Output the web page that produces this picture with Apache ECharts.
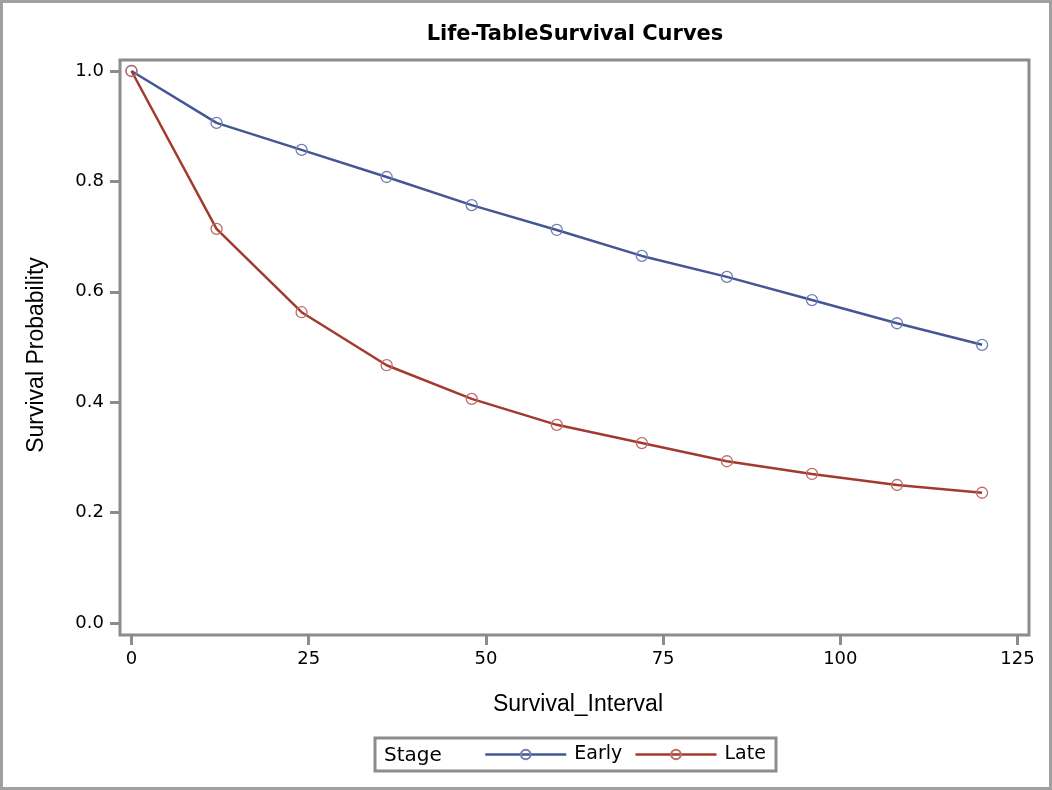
<!DOCTYPE html>
<html>
<head>
<meta charset="utf-8">
<script src="https://cdn.jsdelivr.net/npm/echarts@6/dist/echarts.min.js"></script>
<style>html,body{margin:0;padding:0;background:#fff;}#c{width:1052px;height:790px;}</style>
</head>
<body>
<div id="c"></div>
<script>
const intervals = [0, 12, 24, 36, 48, 60, 72, 84, 96, 108, 120];
const earlySurv = [1.0, 0.906, 0.857, 0.808, 0.757, 0.712, 0.665, 0.627, 0.585, 0.543, 0.504];
const lateSurv  = [1.0, 0.714, 0.563, 0.467, 0.406, 0.359, 0.326, 0.293, 0.270, 0.250, 0.236];
const xTicks = [0, 25, 50, 75, 100, 125];
const yTicks = [0, 0.2, 0.4, 0.6, 0.8, 1.0];
const seriesNames = ['Early', 'Late'];
const titleText = 'Life-TableSurvival Curves';
const xName = 'Survival_Interval';
const yName = 'Survival Probability';
const legendTitle = 'Stage';

const chart = echarts.init(document.getElementById('c'), null, {renderer: 'canvas'});
const frameColor = '#8c8c8c';
const tickFont = 'DejaVu Sans';
function pairs(xs, ys) { return xs.map((x, i) => [x, ys[i]]); }

chart.setOption({
  animation: false,
  backgroundColor: '#fff',
  grid: { left: 120, top: 60, width: 909, height: 575, show: true, borderColor: frameColor, borderWidth: 3, containLabel: false },
  xAxis: {
    type: 'value', min: -1.62, max: 126.62,
    axisLine: { show: false, onZero: false },
    splitLine: { show: false },
    axisTick: { show: true, length: 10, lineStyle: { color: frameColor, width: 3 }, customValues: xTicks },
    axisLabel: { customValues: xTicks, color: '#000', fontFamily: tickFont, fontSize: 18, margin: 15 }
  },
  yAxis: {
    type: 'value', min: -0.0217, max: 1.0199,
    axisLine: { show: false, onZero: false },
    splitLine: { show: false },
    axisTick: { show: true, length: 10, lineStyle: { color: frameColor, width: 3 }, customValues: yTicks },
    axisLabel: { customValues: yTicks, color: '#000', fontFamily: tickFont, fontSize: 18, margin: 16,
      formatter: v => v.toFixed(1) }
  },
  legend: {
    data: seriesNames,
    left: 479, top: 740,
    itemWidth: 81, itemHeight: 12, itemGap: 12,
    lineStyle: { width: 2.5 },
    textStyle: { color: '#000', fontFamily: tickFont, fontSize: 19, padding: [0, 0, 0, 3] }
  },
  graphic: [
    { type: 'rect', shape: { x: 1.5, y: 1.5, width: 1049, height: 787 }, style: { fill: 'none', stroke: '#a0a0a0', lineWidth: 3 }, silent: true },
    { type: 'rect', shape: { x: 375, y: 738, width: 401, height: 33 }, style: { fill: 'none', stroke: '#8c8c8c', lineWidth: 3 }, silent: true },
    { type: 'text', style: { text: legendTitle, x: 384, y: 756, verticalAlign: 'middle', align: 'left', font: '20px "DejaVu Sans"', fill: '#000' } },
    { type: 'text', style: { text: titleText, x: 575, y: 35, verticalAlign: 'middle', align: 'center', font: 'bold 21px "DejaVu Sans"', fill: '#000' } },
    { type: 'text', style: { text: xName, x: 578, y: 705, verticalAlign: 'middle', align: 'center', font: '23px "Liberation Sans"', fill: '#000' } },
    { type: 'text', rotation: Math.PI / 2, x: 37, y: 355, style: { text: yName, x: 0, y: 0, verticalAlign: 'middle', align: 'center', font: '23px "Liberation Sans"', fill: '#000' } }
  ],
  series: [
    { name: seriesNames[0], type: 'line', data: pairs(intervals, earlySurv), symbol: 'circle', symbolSize: 11,
      lineStyle: { color: '#445694', width: 2.5 },
      itemStyle: { color: 'rgba(255,255,255,0)', borderColor: '#6F7EB3', borderWidth: 1.3 } },
    { name: seriesNames[1], type: 'line', data: pairs(intervals, lateSurv), symbol: 'circle', symbolSize: 11,
      lineStyle: { color: '#A23A2E', width: 2.5 },
      itemStyle: { color: 'rgba(255,255,255,0)', borderColor: '#C06A66', borderWidth: 1.3 } }
  ]
});
</script>
</body>
</html>
